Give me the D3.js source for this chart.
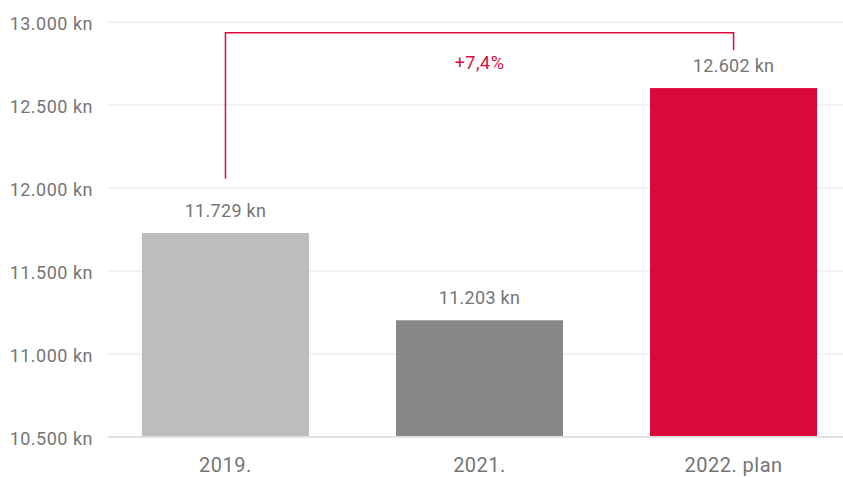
<!DOCTYPE html>
<html>
<head>
<meta charset="utf-8">
<script src="https://cdn.jsdelivr.net/npm/d3@7"></script>
<style>
  body { margin: 0; background: #fff; }
  svg text { font-family: Roboto, "Open Sans", sans-serif; }
</style>
</head>
<body>
<svg id="chart" width="843" height="477"></svg>
<script>
// Data
const categories = ['2019.', '2021.', '2022. plan'];
const values = [11729, 11203, 12602];
const valueLabels = ['11.729 kn', '11.203 kn', '12.602 kn'];
const barColors = ['#bdbdbd', '#888888', '#dc0a3c'];
const yTicks = [10500, 11000, 11500, 12000, 12500, 13000];
const tickLabels = ['10.500 kn', '11.000 kn', '11.500 kn', '12.000 kn', '12.500 kn', '13.000 kn'];
// bracket: top level, left leg end, right leg end (in value units)
const bracketLevels = [12935, 12055, 12830];
const changeLabel = '+7,4%';

const svg = d3.select('#chart');
const y = d3.scaleLinear().domain([10500, 13000]).range([437, 22]);
const x = d3.scaleBand().domain(categories).range([98.5, 860.5])
  .paddingInner(0.3425).paddingOuter(0.171);

// Grid
svg.append('g').selectAll('line')
  .data(yTicks.slice(1)).join('line')
  .attr('x1', 108).attr('x2', 843)
  .attr('y1', d => y(d)).attr('y2', d => y(d))
  .attr('stroke', '#e6e6e6').attr('stroke-width', 1);

// Y labels
svg.append('g').selectAll('text')
  .data(yTicks).join('text')
  .attr('x', 93).attr('y', d => y(d) + 7.5)
  .attr('text-anchor', 'end')
  .attr('font-size', 18).attr('letter-spacing', 0.5)
  .attr('fill', '#757575')
  .text((d, i) => tickLabels[i]);

// Bars
svg.append('g').selectAll('rect')
  .data(values).join('rect')
  .attr('x', (d, i) => x(categories[i]))
  .attr('width', x.bandwidth())
  .attr('y', d => y(d))
  .attr('height', d => y(10500) - y(d))
  .attr('fill', (d, i) => barColors[i]);

// Baseline
svg.append('line')
  .attr('x1', 108).attr('x2', 843)
  .attr('y1', y(10500)).attr('y2', y(10500))
  .attr('stroke', '#e0e0e0').attr('stroke-width', 2);

// Value labels
svg.append('g').selectAll('text')
  .data(values).join('text')
  .attr('x', (d, i) => x(categories[i]) + x.bandwidth() / 2)
  .attr('y', d => y(d) - 16)
  .attr('text-anchor', 'middle')
  .attr('font-size', 18).attr('letter-spacing', 0.3)
  .attr('fill', '#757575')
  .text((d, i) => valueLabels[i]);

// Category labels
svg.append('g').selectAll('text')
  .data(categories).join('text')
  .attr('x', d => x(d) + x.bandwidth() / 2)
  .attr('y', 472)
  .attr('text-anchor', 'middle')
  .attr('font-size', 20).attr('letter-spacing', 0.5)
  .attr('fill', '#757575')
  .text(d => d);

// Change bracket
const cx0 = x(categories[0]) + x.bandwidth() / 2;
const cx2 = x(categories[2]) + x.bandwidth() / 2;
const path = d3.path();
path.moveTo(cx0, y(bracketLevels[1]));
path.lineTo(cx0, y(bracketLevels[0]));
path.lineTo(cx2, y(bracketLevels[0]));
path.lineTo(cx2, y(bracketLevels[2]));
svg.append('path')
  .attr('d', path.toString())
  .attr('fill', 'none')
  .attr('stroke', '#dc0a3c').attr('stroke-width', 1.5);

svg.append('text')
  .attr('x', (cx0 + cx2) / 2)
  .attr('y', 69)
  .attr('text-anchor', 'middle')
  .attr('font-size', 18).attr('letter-spacing', 0.5)
  .attr('fill', '#dc0a3c')
  .text(changeLabel);
</script>
</body>
</html>
